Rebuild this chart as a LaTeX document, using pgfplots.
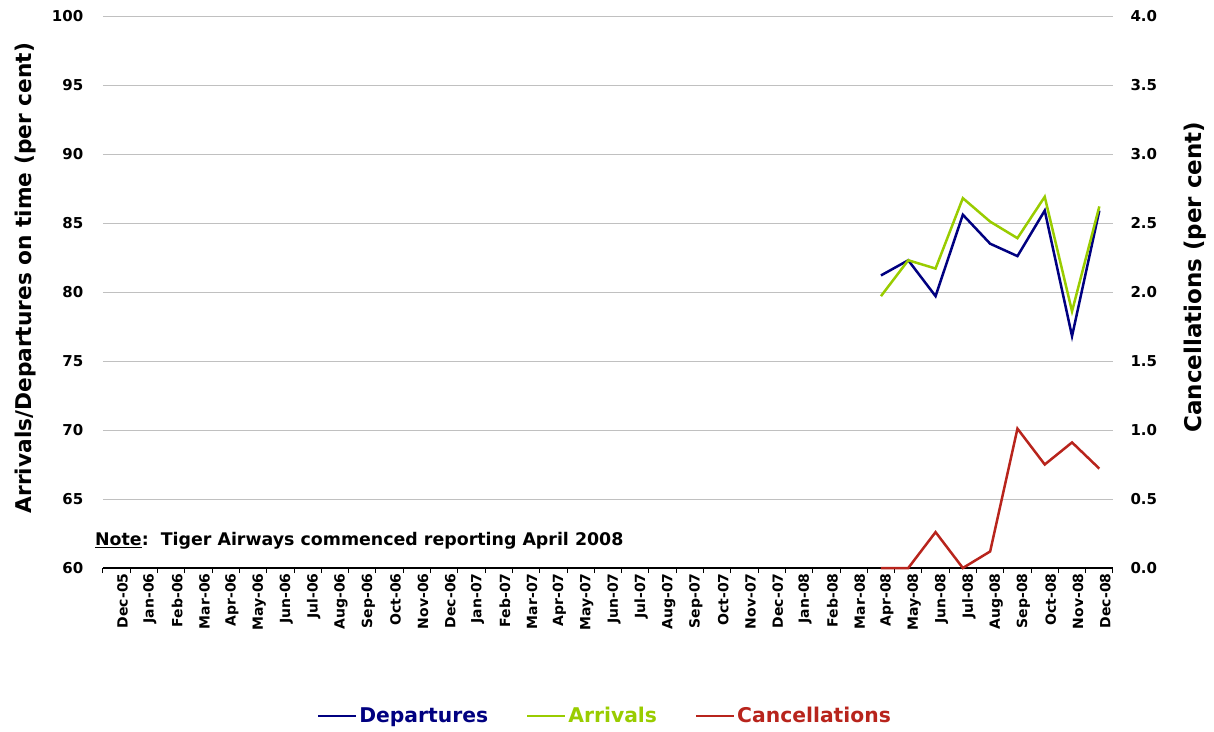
\documentclass[border=0pt]{standalone}
\usepackage{pgfplots}
\pgfplotsset{compat=1.18}
\usepackage{fontspec}
\setmainfont{DejaVu Sans}
\definecolor{dep}{HTML}{000080}
\definecolor{arr}{HTML}{99CC00}
\definecolor{can}{HTML}{B8241C}
\definecolor{gridc}{HTML}{C0C0C0}
\begin{document}
\begin{tikzpicture}
\useasboundingbox (-103pt,-163pt) rectangle (1111pt,568pt);
\begin{axis}[
  scale only axis, width=1010pt, height=552pt,
  xmin=-0.5, xmax=36.5, ymin=60, ymax=100,
  xtick={0,...,36},
  xticklabels={Dec-05,Jan-06,Feb-06,Mar-06,Apr-06,May-06,Jun-06,Jul-06,Aug-06,Sep-06,Oct-06,Nov-06,Dec-06,Jan-07,Feb-07,Mar-07,Apr-07,May-07,Jun-07,Jul-07,Aug-07,Sep-07,Oct-07,Nov-07,Dec-07,Jan-08,Feb-08,Mar-08,Apr-08,May-08,Jun-08,Jul-08,Aug-08,Sep-08,Oct-08,Nov-08,Dec-08},
  major x tick style={draw=none},
  minor xtick={-0.5,0.5,...,36.5},
  minor tick length=5pt,
  minor x tick style={black, line width=1pt},
  tick align=outside,
  xticklabel style={rotate=90, anchor=east, font=\fontsize{14}{15}\selectfont\bfseries, inner sep=1pt, yshift=-6pt},
  ytick={60,65,...,100},
  major y tick style={draw=none},
  yticklabel style={font=\fontsize{15}{17}\selectfont\bfseries, xshift=-12pt},
  /pgf/number format/assume math mode=true,
  ymajorgrids, grid style={gridc, line width=0.8pt},
  axis x line*=bottom, axis y line*=left,
  y axis line style={draw=none},
  x axis line style={black, line width=1.6pt, -},
  ylabel={Arrivals/Departures on time (per cent)},
  ylabel style={at={(axis description cs:-0.077,0.525)}, anchor=center, font=\fontsize{21.7}{24}\selectfont\bfseries},
  legend columns=3,
  legend style={at={(0.497,-0.268)}, anchor=center, draw=none, fill=none, font=\fontsize{20.3}{22}\selectfont\bfseries, /tikz/every even column/.append style={column sep=36pt}},
  legend image code/.code={\draw[#1, line width=2.2pt] (0pt,0pt) -- (38pt,0pt);},
  clip=false,
]
\addplot[dep, line width=2.5pt] coordinates {(28,81.2) (29,82.3) (30,79.7) (31,85.6) (32,83.5) (33,82.6) (34,85.9) (35,76.8) (36,85.9)};
\addlegendentry{\textcolor{dep}{Departures}}
\addplot[arr, line width=2.5pt] coordinates {(28,79.7) (29,82.3) (30,81.7) (31,86.8) (32,85.1) (33,83.9) (34,86.9) (35,78.6) (36,86.2)};
\addlegendentry{\textcolor{arr}{Arrivals}}
\addlegendimage{can, line width=2.5pt}
\addlegendentry{\textcolor{can}{Cancellations}}
\node[anchor=west, font=\fontsize{17.4}{19}\selectfont\bfseries, inner sep=0pt] at (rel axis cs:-0.008,0.049) {\underline{Note}:\ \ Tiger Airways commenced reporting April 2008};
\end{axis}
\begin{axis}[
  scale only axis, width=1010pt, height=552pt,
  xmin=-0.5, xmax=36.5, ymin=0, ymax=4,
  axis x line=none, axis y line*=right,
  y axis line style={draw=none},
  ytick={0,0.5,...,4},
  major y tick style={draw=none},
  yticklabel style={font=\fontsize{15}{17}\selectfont\bfseries, /pgf/number format/fixed, /pgf/number format/fixed zerofill, /pgf/number format/precision=1, xshift=14pt},
  /pgf/number format/assume math mode=true,
  ylabel={Cancellations (per cent)},
  ylabel style={at={(axis description cs:1.081,0.527)}, anchor=center, font=\fontsize{23}{26}\selectfont\bfseries},
  clip=false,
]
\addplot[can, line width=2.5pt] coordinates {(28,0) (29,0) (30,0.26) (31,0) (32,0.12) (33,1.01) (34,0.75) (35,0.91) (36,0.72)};
\end{axis}
\end{tikzpicture}
\end{document}
